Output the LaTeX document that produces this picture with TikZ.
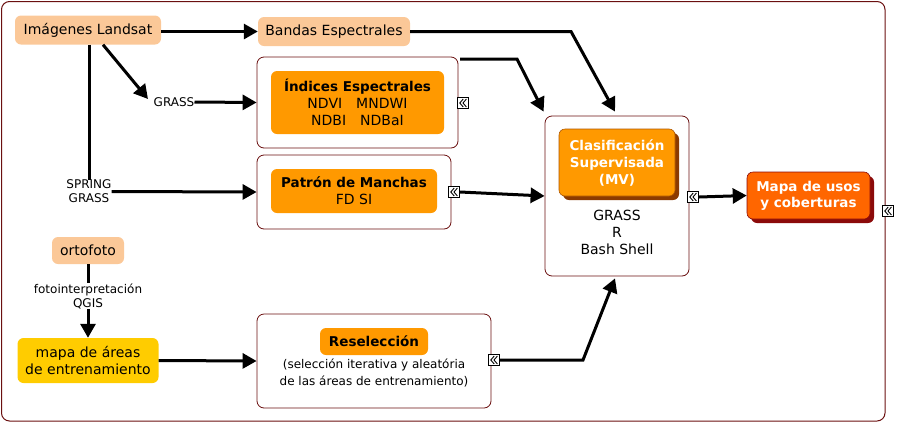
\documentclass[tikz,border=0pt]{standalone}
\usepackage{fontspec}
\setmainfont{DejaVu Sans}
\usetikzlibrary{arrows.meta,shadows}
\definecolor{framec}{HTML}{6B1010}
\definecolor{peach}{HTML}{FBC898}
\definecolor{orng}{HTML}{FF9900}
\definecolor{yel}{HTML}{FFCC00}
\definecolor{redor}{HTML}{FF6600}
\definecolor{shbrown}{HTML}{8B3A00}
\definecolor{shred}{HTML}{8B0A0A}
\begin{document}
\begin{tikzpicture}[x=1pt,y=-1pt,
  font=\fontsize{14}{17}\selectfont,
  every node/.style={inner sep=0pt, align=center},
  pbox/.style={fill=peach, rounded corners=6pt},
  ybox/.style={fill=yel, rounded corners=6pt},
  fbox/.style={draw=framec, rounded corners=7pt, fill=white, line width=0.8pt},
  obox/.style={fill=orng, rounded corners=6pt},
  bf/.style={font=\fontsize{13.5}{17}\selectfont\bfseries},
  arr/.style={line width=3pt, -{Triangle[length=14pt,width=15pt]}},
  ln/.style={line width=3pt},
  iconbox/.style={draw, fill=white, minimum size=11.5pt, line width=0.7pt,
    path picture={
      \draw[line width=0.9pt] (path picture bounding box.center) ++(0.2,-4) -- ++(-3.4,4) -- ++(3.4,4);
      \draw[line width=0.9pt] (path picture bounding box.center) ++(3.4,-4) -- ++(-3.4,4) -- ++(3.4,4);
    }},
  lbl/.style={font=\fontsize{12}{14}\selectfont}]
\useasboundingbox (0,0) rectangle (897,424);
\draw[framec, rounded corners=8pt, line width=1pt] (1.5,1.5) rectangle (885,421);

% nodes
\node[pbox, minimum width=146pt, minimum height=29pt] (land) at (88,30) {Imágenes Landsat};
\node[pbox, minimum width=152pt, minimum height=29pt] (band) at (334,31.5) {Bandas Espectrales};

\node[fbox, minimum width=201pt, minimum height=91pt] (indo) at (357.5,102.5) {};
\node[obox, minimum width=173pt, minimum height=63pt] (indi) at (357.5,102.5)
  {{\fontsize{13.5}{17}\selectfont\bfseries Índices Espectrales}\\NDVI\hspace{1em}MNDWI\\NDBI\hspace{1em}NDBaI};
\node[iconbox] (ic1) at (463,103) {};

\node[fbox, minimum width=194pt, minimum height=74pt] (pato) at (354,192) {};
\node[obox, minimum width=166pt, minimum height=44pt] (pati) at (354,191)
  {{\fontsize{13.5}{17}\selectfont\bfseries Patrón de Manchas}\\FD SI};
\node[iconbox] (ic2) at (454,192) {};

\node[fbox, minimum width=144pt, minimum height=160pt] (clo) at (617,196) {};
\node[fill=orng, draw=shbrown!70!orng, line width=0.6pt, rounded corners=6pt, minimum width=116pt, minimum height=67pt,
  drop shadow={shadow xshift=4pt, shadow yshift=-4pt, fill=shbrown, opacity=1},
  text=white, bf] (cli) at (617,162.5)
  {Clasificación\\Supervisada\\(MV)};
\node (cltx) at (617,232) {GRASS\\R\\Bash Shell};
\node[iconbox] (ic3) at (693,197) {};

\node[fill=redor, draw=shred, line width=0.6pt, rounded corners=6pt, minimum width=123pt, minimum height=47pt,
  drop shadow={shadow xshift=4pt, shadow yshift=-4pt, fill=shred, opacity=1},
  text=white, font=\fontsize{13.5}{16}\selectfont\bfseries] (mapa) at (808.5,195.5)
  {Mapa de usos\\y coberturas};
\node[iconbox] (ic4) at (888,211) {};

\node[pbox, minimum width=72pt, minimum height=27pt] (orto) at (88,250.5) {ortofoto};
\node[ybox, minimum width=141pt, minimum height=45pt] (area) at (88,360.5) {mapa de áreas\\de entrenamiento};

\node[fbox, minimum width=234pt, minimum height=94pt] (reso) at (374,361) {};
\node[obox, minimum width=108pt, minimum height=27pt, bf] (resi) at (374,341.5) {Reselección};
\node[font=\fontsize{12}{17}\selectfont] (retx) at (374,372.5) {(selección iterativa y aleatória\\de las áreas de entrenamiento)};
\node[iconbox] (ic5) at (494,360) {};

% labels
\node[lbl] (g1) at (174,102) {GRASS};
\node[lbl] (sg) at (89,191.5) {SPRING\\GRASS};
\node[lbl] (foto) at (88,296) {fotointerpretación\\QGIS};

% coordinates
\coordinate (g1tip) at (148,99);
\coordinate (c1) at (571,31.5);
\coordinate (c2a) at (460,59);
\coordinate (c2) at (517,59);
\coordinate (c5) at (583,360);

% connectors
\draw[arr] (land.east |- band.west) -- (band.west);
\draw[arr] ([xshift=15pt]land.south) -- (g1tip);
\draw[arr] (g1.east) -- (indo.west);
\draw[ln] (land.south -| sg.north) -- (sg.north);
\draw[arr] (sg.east) -- (pato.west);
\draw[arr] (band.east) -- (c1) -- ([shift={(-2,-4)}]clo.north);
\draw[arr] (c2a) -- (c2) -- ([shift={(-1,-4)}]clo.north west);
\draw[arr] (ic2.east) -- (clo.west);
\draw[arr] (ic3.east) -- (mapa.west);
\draw[ln] (orto.south) -- (foto.north);
\draw[arr] (foto.south) -- (area.north);
\draw[arr] (area.east) -- (reso.west);
\draw[arr] (ic5.east) -- (c5) -- ([shift={(-2,2)}]clo.south);
\end{tikzpicture}
\end{document}
